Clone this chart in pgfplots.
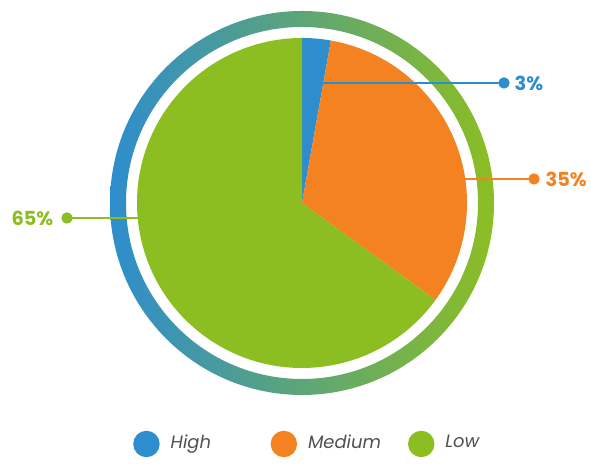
\documentclass[border=0pt]{standalone}
\usepackage{pgfplots}
\pgfplotsset{compat=1.18}
\usepackage{pgfplotstable}
\usepackage{fontspec}
\setmainfont{Poppins}
\definecolor{cHigh}{HTML}{2E8DCD}
\definecolor{cMed}{HTML}{F58220}
\definecolor{cLow}{HTML}{8CBE22}
\definecolor{cTxt}{HTML}{505050}

% share of the circle (percent) as drawn, and the printed label
\pgfplotstableread{
name   share label
High   2.8   3
Medium 32.2  35
Low    65.0  65
}\piedata

\pgfplotstablegetelem{0}{share}\of\piedata \edef\sA{\pgfplotsretval}
\pgfplotstablegetelem{1}{share}\of\piedata \edef\sB{\pgfplotsretval}
\pgfplotstablegetelem{2}{share}\of\piedata \edef\sC{\pgfplotsretval}
\pgfmathsetmacro\aA{90}
\pgfmathsetmacro\aB{\aA-3.6*\sA}
\pgfmathsetmacro\aC{\aB-3.6*\sB}
\pgfmathsetmacro\aD{\aC-3.6*\sC}
\def\R{1.65}

\begin{document}
\begin{tikzpicture}
\begin{axis}[
  x=1cm, y=1cm,
  xmin=-3.02, xmax=2.89, ymin=-2.52, ymax=2.03,
  hide axis, clip=false,
  legend columns=3,
  legend style={at={(axis cs:-1.80,-2.41)}, anchor=west, draw=none, fill=none,
    font=\fontsize{5.1pt}{6pt}\selectfont\itshape\color{cTxt},
    nodes={inner sep=0pt, text width=1.0cm, align=left},
    /tikz/every odd column/.append style={column sep=0.11cm},
    /tikz/every even column/.append style={column sep=0cm}},
]
% full picture area
\path (axis cs:-3.02,-2.52) rectangle (axis cs:2.89,2.03);
% legend
\addlegendimage{legend image code/.code={\fill[cHigh] (0.125cm,0cm) circle (0.125cm);}}
\addlegendentry{High}
\addlegendimage{legend image code/.code={\fill[cMed] (0.125cm,0cm) circle (0.125cm);}}
\addlegendentry{Medium}
\addlegendimage{legend image code/.code={\fill[cLow] (0.125cm,0cm) circle (0.125cm);}}
\addlegendentry{Low}

% gradient ring
\shade[left color=cHigh, right color=cLow, even odd rule]
  (axis cs:0,0) circle[radius=1.92cm] (axis cs:0,0) circle[radius=1.76cm];

% slices
\fill[cHigh] (axis cs:0,0) -- (axis cs:{\R*cos(\aA)},{\R*sin(\aA)})
  arc[start angle=\aA, end angle=\aB, radius=1.65cm] -- cycle;
\fill[cMed] (axis cs:0,0) -- (axis cs:{\R*cos(\aB)},{\R*sin(\aB)})
  arc[start angle=\aB, end angle=\aC, radius=1.65cm] -- cycle;
\fill[cLow] (axis cs:0,0) -- (axis cs:{\R*cos(\aC)},{\R*sin(\aC)})
  arc[start angle=\aC, end angle=\aD, radius=1.65cm] -- cycle;

% leader lines
\addplot[forget plot, cHigh, line width=0.6pt, mark=*, mark size=1.3pt, mark indices={2}]
  coordinates {(0.21,1.20) (2.02,1.20)};
\addplot[forget plot, cMed, line width=0.6pt, mark=*, mark size=1.3pt, mark indices={2}]
  coordinates {(1.62,0.24) (2.32,0.24)};
\addplot[forget plot, cLow, line width=0.6pt, mark=*, mark size=1.3pt, mark indices={2}]
  coordinates {(-1.64,-0.15) (-2.35,-0.15)};

\node[anchor=west, inner sep=0pt, text=cHigh, font=\fontsize{5.5pt}{7pt}\selectfont\bfseries]
  at (axis cs:2.12,1.20) {3\%};
\node[anchor=west, inner sep=0pt, text=cMed, font=\fontsize{5.5pt}{7pt}\selectfont\bfseries]
  at (axis cs:2.43,0.24) {35\%};
\node[anchor=east, inner sep=0pt, text=cLow, font=\fontsize{5.5pt}{7pt}\selectfont\bfseries]
  at (axis cs:-2.48,-0.15) {65\%};
\end{axis}
\end{tikzpicture}
\end{document}
